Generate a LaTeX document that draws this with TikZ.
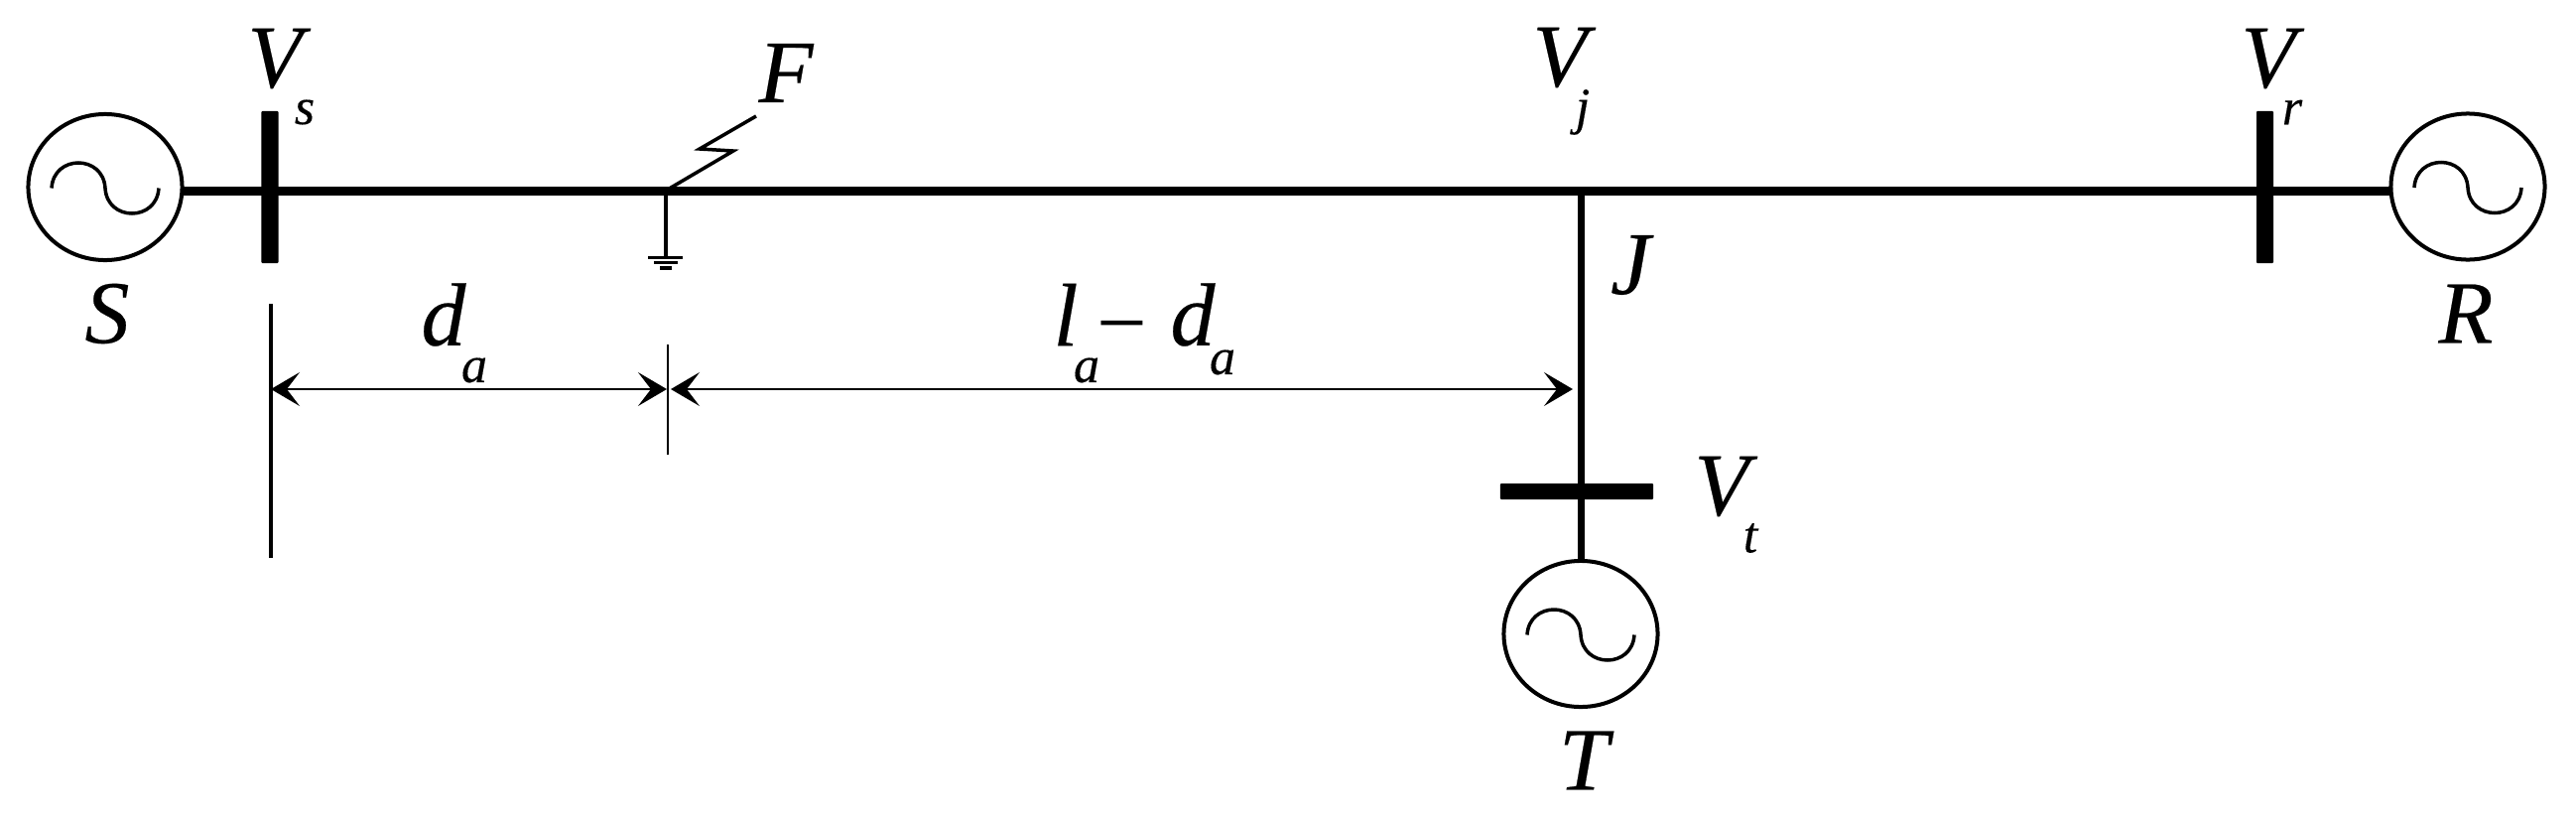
\documentclass[tikz,border=0pt]{standalone}
\usepackage{fontspec}
\setmainfont[ItalicFeatures={FakeBold=0.25}]{Liberation Serif}
\usetikzlibrary{arrows.meta, shapes.geometric}
\tikzstyle{gen} = [ellipse, draw=black, line width=0.04cm, minimum width=1.55cm, minimum height=1.47cm, inner sep=0pt, outer sep=0pt]
\tikzstyle{bus} = [rectangle, fill=black, rounded corners=0.01cm, inner sep=0pt, outer sep=0pt]
\tikzstyle{vbus} = [bus, minimum width=0.17cm, minimum height=1.53cm]
\tikzstyle{hbus} = [bus, minimum width=1.54cm, minimum height=0.16cm]
\tikzstyle{sym} = [inner sep=0pt, font=\fontsize{25.6}{26}\selectfont\itshape]
\tikzstyle{sub} = [inner sep=0pt, font=\fontsize{14.8}{15}\selectfont\itshape]
\tikzstyle{mainline} = [line width=0.09cm]
\tikzstyle{branch} = [line width=0.07cm]
\tikzstyle{wave} = [line width=0.035cm]
\tikzstyle{thinline} = [line width=0.035cm]
\tikzstyle{tick} = [line width=0.02cm]
\tikzstyle{arrow} = [line width=0.02cm, {Stealth[length=0.29cm, width=0.34cm, inset=0.13cm]}-{Stealth[length=0.29cm, width=0.34cm, inset=0.13cm]}]
\begin{document}
\begin{tikzpicture}[x=0.01cm, y=-0.01cm]
\useasboundingbox (0,0) rectangle (2596,830);

\node (gs) [gen] at (106,188.5) {};
\node (gr) [gen] at (2487,188) {};
\node (gt) [gen] at (1593,638.5) {};
\node (bs) [vbus] at (272,188.5) {};
\node (br) [vbus] at (2282.5,188.5) {};
\node (bt) [hbus] at (1589,495) {};
\coordinate (fault) at (671,192);
\coordinate (junction) at (1593,192);

\draw [mainline] (gs.east |- fault) -- (gr.west |- fault);
\draw [branch] (junction) -- (gt.north);

\foreach \g in {gs,gr,gt}
  \draw [wave] ([shift={(-54,1)}]\g.center) .. controls ([shift={(-52,-33)}]\g.center) and ([shift={(-2,-33)}]\g.center) .. ([shift={(0,1)}]\g.center) .. controls ([shift={(2,35)}]\g.center) and ([shift={(52,35)}]\g.center) .. ([shift={(54,1)}]\g.center);

% fault and earth
\coordinate (bolt) at (762,117);
\draw [thinline] (fault) -- (739,152) -- (705,150) -- (bolt);
\coordinate (earth) at (671,259);
\draw [thinline] (fault) -- (earth);
\draw [thinline] (653,259.5) -- (688,259.5);
\draw [thinline] (659,264.5) -- (683,264.5);
\draw [thinline] (665,270) -- (677,270);

% distances
\coordinate (tickstop) at (273,306);
\coordinate (tickbot) at (273,562);
\coordinate (faulttop) at (673,347);
\coordinate (faultbot) at (673,458);
\coordinate (dimj) at (1585,392);
\draw [thinline] (tickstop) -- (tickbot);
\draw [tick] (faulttop) -- (faultbot);
\draw [arrow, shorten >=0.01cm] (tickstop |- dimj) -- (faulttop |- dimj);
\draw [arrow, shorten <=0.03cm] (faulttop |- dimj) -- (dimj);

\node (vs) [sym] at (277,59) {V};
\node (vss) [sub] at (307,113) {s};
\node (f) [sym] at (792,73.5) {F};
\node (s) [sym] at (108,316) {S};
\node (d1) [sym] at (447,317) {d};
\node (a1) [sub] at (478,373) {a};
\node (l2) [sym] at (1074,317) {l};
\node (a2) [sub] at (1095,373) {a};
\node (minus) [sym, font=\fontsize{25.6}{26}\selectfont] at (1131,339) {−};
\node (d2) [sym] at (1202,317) {d};
\node (a3) [sub] at (1232,365) {a};
\node (vj) [sym] at (1572,58) {V};
\node (vjs) [sub] at (1595,113) {j};
\node (j) [sym] at (1643,267) {J};
\node (vt) [sym] at (1735,490) {V};
\node (vts) [sub] at (1764,542) {t};
\node (t) [sym] at (1596,766) {T};
\node (vr) [sym] at (2286,59) {V};
\node (vrs) [sub] at (2310,113) {r};
\node (r) [sym] at (2485,316) {R};

\end{tikzpicture}
\end{document}
